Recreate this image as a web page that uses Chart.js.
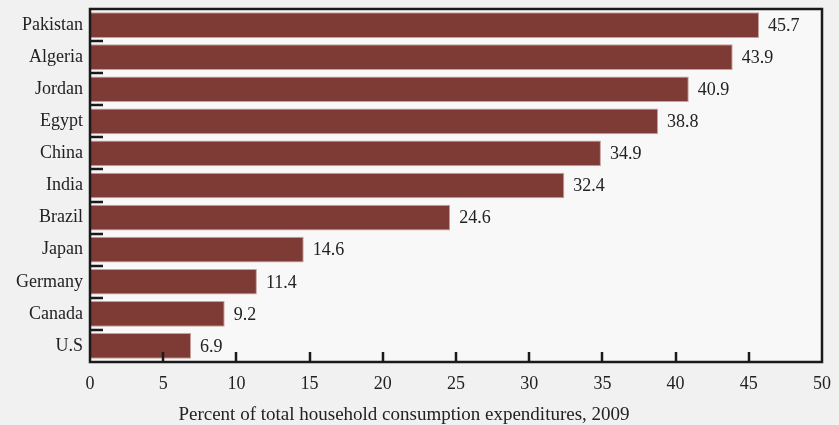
<!DOCTYPE html>
<html><head><meta charset="utf-8">
<script src="https://cdn.jsdelivr.net/npm/chart.js@4/dist/chart.umd.min.js"></script>
<style>html,body{margin:0;padding:0;background:#f1f1f1;}#wrap{width:839px;height:425px;}</style>
</head><body><div id="wrap"><canvas id="c" width="839" height="425"></canvas></div>
<script>
const categories = ["Pakistan","Algeria","Jordan","Egypt","China","India","Brazil","Japan","Germany","Canada","U.S"];
const values = [45.7,43.9,40.9,38.8,34.9,32.4,24.6,14.6,11.4,9.2,6.9];
const xTicks = [0,5,10,15,20,25,30,35,40,45,50];
const axisTitle = "Percent of total household consumption expenditures, 2009";
const FONT = "'Liberation Serif', 'DejaVu Serif', serif";

const deco = {
  id: 'deco',
  beforeDraw(chart) {
    const {ctx, chartArea: a} = chart;
    ctx.save();
    ctx.fillStyle = '#f8f8f8';
    ctx.fillRect(a.left, a.top, a.right - a.left, a.bottom - a.top);
    ctx.restore();
  },
  afterDatasetsDraw(chart) {
    const {ctx, chartArea: a, scales} = chart;
    const x = scales.x, y = scales.y;
    ctx.save();
    ctx.strokeStyle = '#1a1a1a';
    ctx.lineWidth = 2.5;
    xTicks.slice(1, -1).forEach(v => {
      const px = Math.round(x.getPixelForValue(v));
      ctx.beginPath(); ctx.moveTo(px, a.bottom); ctx.lineTo(px, a.bottom - 10); ctx.stroke();
    });
    for (let i = 0; i < categories.length - 1; i++) {
      const py = Math.round((y.getPixelForValue(i) + y.getPixelForValue(i + 1)) / 2);
      ctx.beginPath(); ctx.moveTo(a.left, py); ctx.lineTo(a.left + 13, py); ctx.stroke();
    }
    ctx.lineWidth = 2.5;
    ctx.strokeRect(a.left, a.top, a.right - a.left, a.bottom - a.top);
    ctx.fillStyle = '#222';
    ctx.font = "18px " + FONT;
    ctx.textBaseline = 'middle';
    ctx.textAlign = 'left';
    const meta = chart.getDatasetMeta(0);
    meta.data.forEach((bar, i) => {
      ctx.fillText(values[i].toFixed(1), bar.x + 9, bar.y + 1);
    });
    ctx.font = "19px " + FONT;
    ctx.textAlign = 'center';
    ctx.fillText(axisTitle, (a.left + a.right) / 2 - 52, a.bottom + 53);
    ctx.restore();
  }
};

new Chart(document.getElementById('c'), {
  type: 'bar',
  data: {
    labels: categories,
    datasets: [{
      data: values,
      backgroundColor: '#7e3b35',
      borderColor: '#c9a19c',
      borderWidth: 1,
      borderSkipped: 'left',
      categoryPercentage: 1,
      barPercentage: 0.8
    }]
  },
  options: {
    indexAxis: 'y',
    responsive: false,
    animation: false,
    layout: {padding: {top: 9, right: 17, bottom: 0, left: 0}},
    plugins: {legend: {display: false}, tooltip: {enabled: false}},
    scales: {
      x: {
        min: 0, max: 50,
        afterBuildTicks(s) { s.ticks = xTicks.map(v => ({value: v})); },
        grid: {display: false, drawTicks: false},
        border: {display: false},
        ticks: {color: '#222', font: {family: FONT, size: 18}, padding: 11},
        afterFit(s) { s.height = 63; s.paddingLeft = 0; s.paddingRight = 0; }
      },
      y: {
        grid: {display: false, drawTicks: false},
        border: {display: false},
        ticks: {color: '#222', font: {family: FONT, size: 18}, padding: 7},
        afterFit(s) { s.width = 90; s.paddingTop = 0; s.paddingBottom = 0; }
      }
    }
  },
  plugins: [deco]
});
</script></body></html>
